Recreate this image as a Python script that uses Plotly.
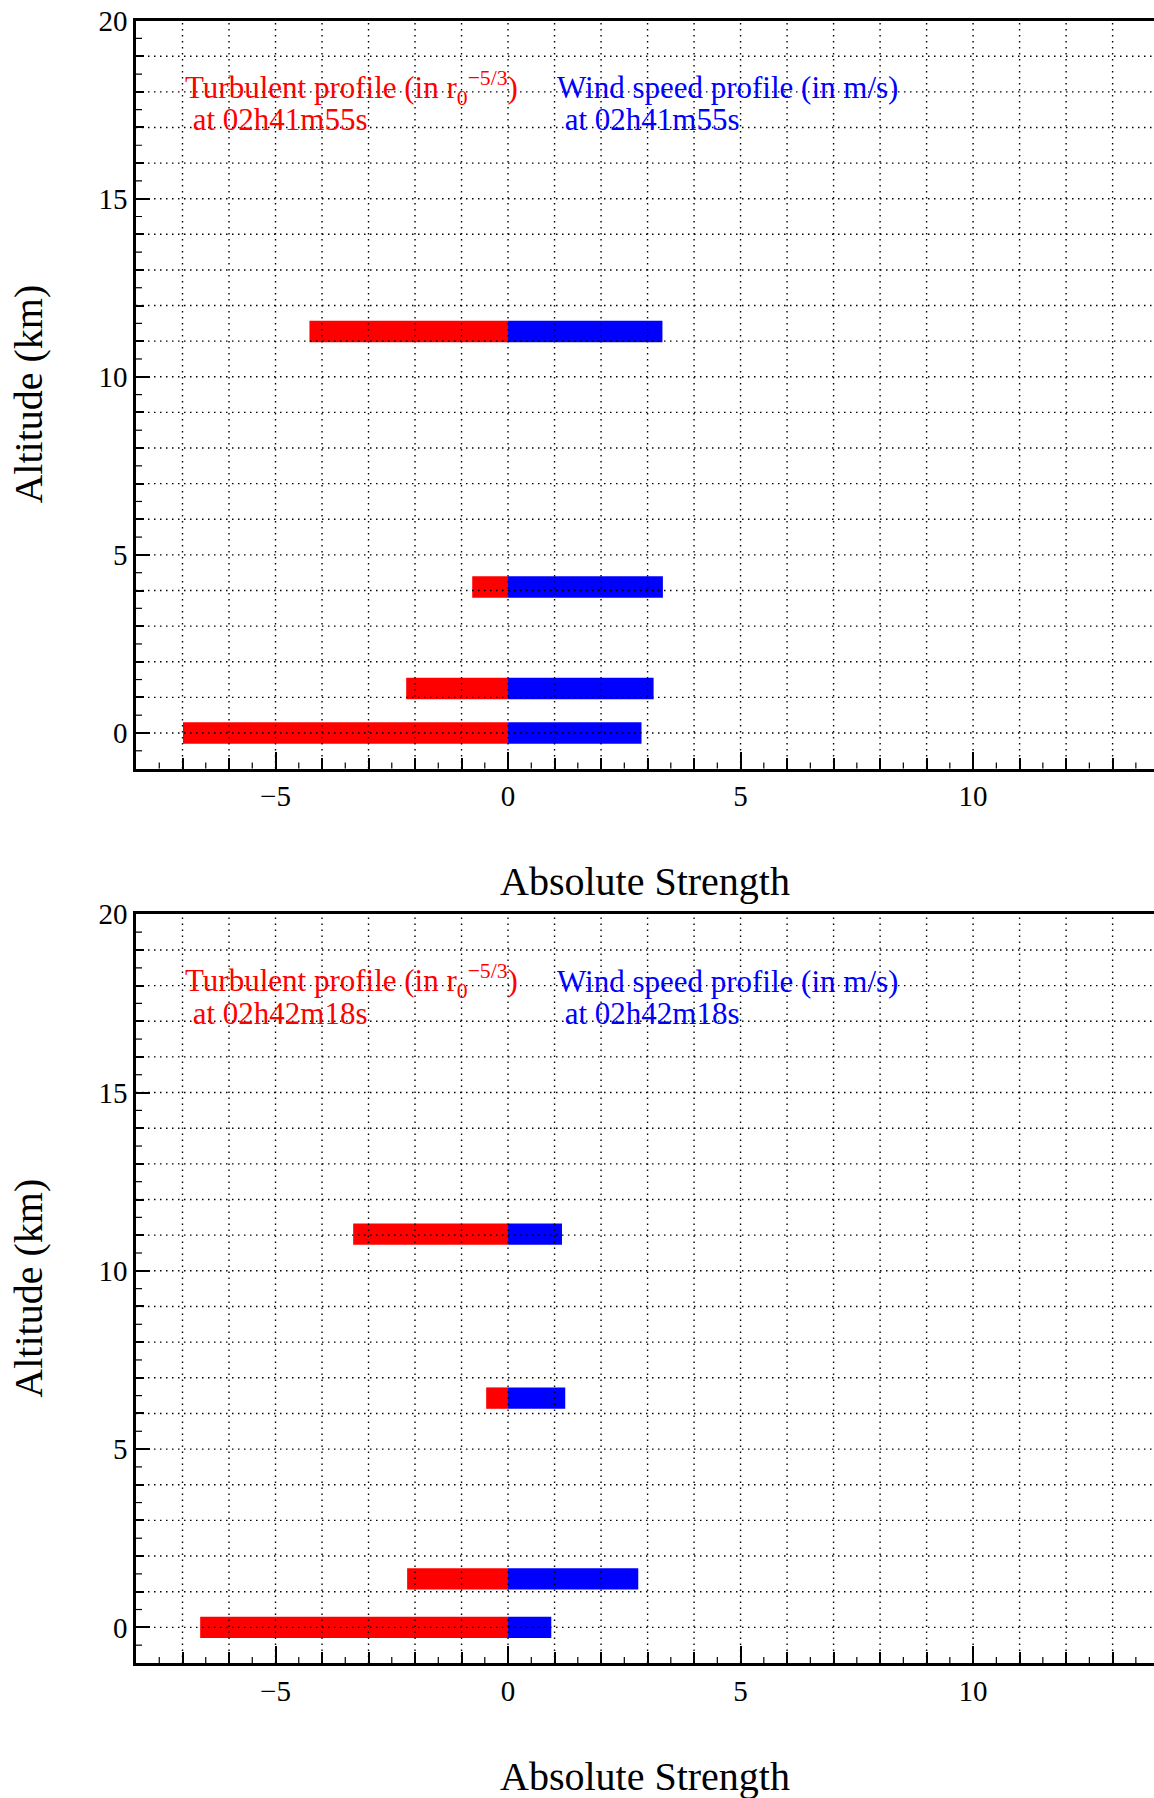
import plotly.graph_objects as go

# ---------------- data ----------------
panel_times = ["02h41m55s", "02h42m18s"]

alt_top = [0.0, 1.25, 4.10, 11.27]
turb_top = [-6.99, -2.19, -0.77, -4.27]
wind_top = [2.87, 3.13, 3.33, 3.32]

alt_bot = [0.0, 1.36, 6.43, 11.03]
turb_bot = [-6.62, -2.17, -0.47, -3.33]
wind_bot = [0.93, 2.80, 1.23, 1.16]

x_range = [-8, 13.89]
y_range = [-1, 20]
x_label_values = [-5, 0, 5, 10]
y_label_values = [0, 5, 10, 15, 20]
x_unit_values = list(range(-8, 14))
y_unit_values = list(range(-1, 21))

x_title = "Absolute Strength"
y_title = "Altitude (km)"
turb_label = "Turbulent profile (in r<sub>0</sub><sup>\u22125/3</sup>)"
wind_label = "Wind speed profile (in m/s)"

# ---------------- style ----------------
W, H = 1154, 1798
FONT = "Liberation Serif"
RED = "#ff0000"
BLUE = "#0000ff"
BAR_W = 0.6

x_left_px = 136
panels_px = [(20.6, 768.6), (914.3, 1663.0)]  # plot areas (top, bottom) in px


def fmt(v):
    return str(v).replace("-", "\u2212")


fig = go.Figure()
layout = dict(
    template="none",
    width=W, height=H,
    margin=dict(l=0, r=0, t=0, b=0, pad=0),
    paper_bgcolor="white", plot_bgcolor="white",
    showlegend=False, barmode="overlay",
    font=dict(family=FONT, color="black"),
)
shapes = []
annotations = []

panels = [
    (alt_top, turb_top, wind_top, panel_times[0]),
    (alt_bot, turb_bot, wind_bot, panel_times[1]),
]

for i, (alts, turb, wind, tstamp) in enumerate(panels):
    n = "" if i == 0 else str(i + 1)
    xa, ya = "x" + n, "y" + n
    top_px, bot_px = panels_px[i]
    ydom = [1 - bot_px / H, 1 - top_px / H]

    fig.add_trace(go.Bar(y=alts, x=turb, orientation="h", width=BAR_W,
                         marker=dict(color=RED, line=dict(width=0)),
                         xaxis=xa, yaxis=ya, hoverinfo="skip"))
    fig.add_trace(go.Bar(y=alts, x=wind, orientation="h", width=BAR_W,
                         marker=dict(color=BLUE, line=dict(width=0)),
                         xaxis=xa, yaxis=ya, hoverinfo="skip"))

    layout["xaxis" + n] = dict(
        domain=[x_left_px / W, 1.0], anchor=ya, range=x_range, automargin=False,
        tickmode="array", tickvals=x_label_values,
        ticktext=[fmt(v) for v in x_label_values],
        ticks="inside", ticklen=17, tickwidth=1.5, tickcolor="black",
        minor=dict(tickmode="linear", tick0=0, dtick=1, ticks="inside",
                   ticklen=11, tickwidth=1.5, tickcolor="black", showgrid=False),
        showgrid=False, zeroline=False, ticklabeloverflow="allow",
        showline=True, linecolor="black", linewidth=2.5, mirror=True,
        tickfont=dict(family=FONT, size=29, color="black"),
        fixedrange=True,
    )
    layout["yaxis" + n] = dict(
        domain=ydom, anchor=xa, range=y_range, automargin=False,
        tickmode="array", tickvals=y_label_values,
        ticktext=[fmt(v) for v in y_label_values],
        ticks="inside", ticklen=14, tickwidth=1.5, tickcolor="black",
        minor=dict(tickmode="linear", tick0=0, dtick=1, ticks="inside",
                   ticklen=8, tickwidth=1.5, tickcolor="black", showgrid=False),
        showgrid=False, zeroline=False, ticklabeloverflow="allow",
        showline=True, linecolor="black", linewidth=2.5, mirror=False,
        tickfont=dict(family=FONT, size=29, color="black"),
        fixedrange=True,
    )

    # dotted grid drawn above the bars
    grid_line = dict(color="black", width=1.4, dash="1.5px,4.5px")
    for xv in x_unit_values[1:]:
        shapes.append(dict(type="line", xref=xa, yref=ya + " domain",
                           x0=xv, x1=xv, y0=0, y1=1, line=grid_line, layer="above"))
    for yv in y_unit_values[1:-1]:
        shapes.append(dict(type="line", xref=xa + " domain", yref=ya,
                           x0=0, x1=1, y0=yv, y1=yv, line=grid_line, layer="above"))
    # short half-unit ticks
    half = dict(color="black", width=1.2)
    for xv in x_unit_values:
        shapes.append(dict(type="line", xref=xa, yref=ya + " domain",
                           ysizemode="pixel", yanchor=0, x0=xv + 0.5, x1=xv + 0.5,
                           y0=0, y1=6, line=half, layer="above"))
    for yv in y_unit_values[:-1]:
        shapes.append(dict(type="line", xref=xa + " domain", yref=ya,
                           xsizemode="pixel", xanchor=0, x0=0, x1=6,
                           y0=yv + 0.5, y1=yv + 0.5, line=half, layer="above"))

    # axis titles
    annotations.append(dict(text=x_title, xref=xa + " domain", x=0.5,
                            yref="paper", y=1 - (bot_px + 113) / H,
                            xanchor="center", yanchor="middle", showarrow=False,
                            font=dict(family=FONT, size=40, color="black")))
    annotations.append(dict(text=y_title, xref="paper", x=29 / W,
                            yref=ya + " domain", y=0.5, textangle=-90,
                            xanchor="center", yanchor="middle", showarrow=False,
                            font=dict(family=FONT, size=40, color="black")))

    # in-plot labels
    for (txt, xpos, col) in [(turb_label, -7.0, RED), (wind_label, 1.0, BLUE)]:
        annotations.append(dict(text=txt, xref=xa, x=xpos, yref=ya, y=18.12,
                                xanchor="left", yanchor="middle", showarrow=False,
                                font=dict(family=FONT, size=31, color=col)))
        annotations.append(dict(text="\u00a0at " + tstamp, xref=xa, x=xpos, yref=ya, y=17.22,
                                xanchor="left", yanchor="middle", showarrow=False,
                                font=dict(family=FONT, size=31, color=col)))

layout["shapes"] = shapes
layout["annotations"] = annotations
fig.update_layout(**layout)
fig.write_html("out.html", config={"displayModeBar": False},
               post_script="document.body.style.margin='0';document.body.style.overflow='hidden';")
